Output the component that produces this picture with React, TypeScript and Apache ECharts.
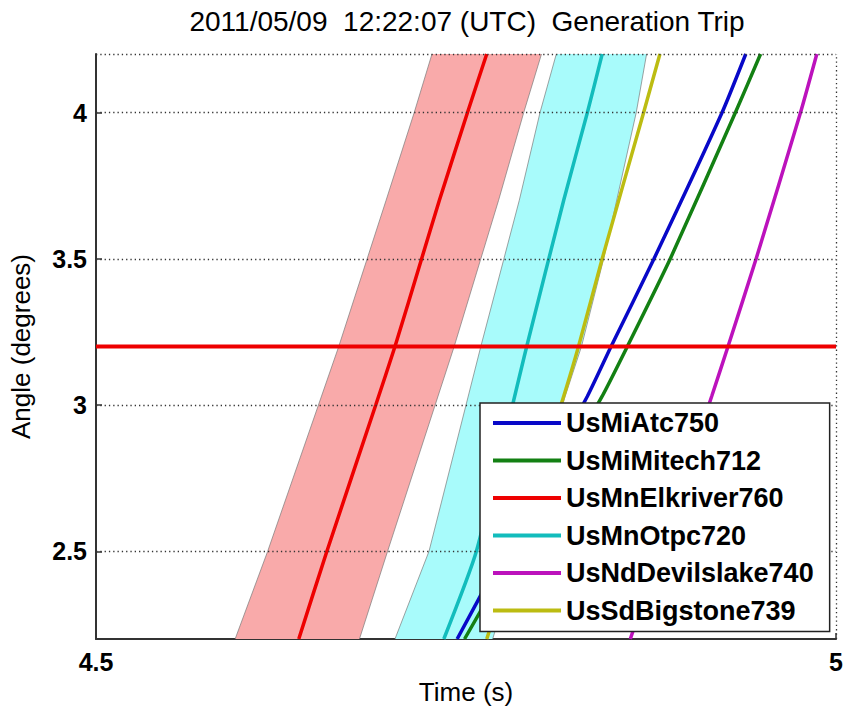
import React, { useEffect, useRef } from "react";
import * as echarts from "echarts";

const TITLE = "2011/05/09  12:22:07 (UTC)  Generation Trip";
const X_NAME = "Time (s)";
const Y_NAME = "Angle (degrees)";
const X_TICKS = [4.5, 5];
const Y_TICKS = [2.5, 3, 3.5, 4];
const X_RANGE = [4.5, 5];
const Y_RANGE = [2.2, 4.2];
const THRESHOLD = 3.2;

// [time (s), angle (degrees)]
const ATC750 = [[4.744, 2.2], [4.776, 2.5], [4.832, 3.03], [4.848, 3.2], [4.877, 3.5], [4.923, 4.0], [4.939, 4.2]];
const MITECH712 = [[4.749, 2.2], [4.783, 2.5], [4.842, 3.03], [4.859, 3.2], [4.888, 3.5], [4.932, 4.0], [4.949, 4.2]];
const ELKRIVER760 = [[4.637, 2.2], [4.656, 2.5], [4.689, 3.0], [4.702, 3.2], [4.720, 3.5], [4.732, 3.7], [4.751, 4.0], [4.764, 4.2]];
const OTPC720 = [[4.735, 2.2], [4.757, 2.5], [4.791, 3.2], [4.816, 3.7], [4.832, 4.0], [4.842, 4.2]];
const DEVILSLAKE740 = [[4.861, 2.2], [4.881, 2.5], [4.916, 3.03], [4.927, 3.2], [4.946, 3.5], [4.976, 4.0], [4.987, 4.2]];
const BIGSTONE739 = [[4.764, 2.2], [4.783, 2.5], [4.816, 3.03], [4.826, 3.2], [4.842, 3.5], [4.870, 4.0], [4.881, 4.2]];

const ELK_BAND_LOW = [[4.594, 2.2], [4.616, 2.5], [4.664, 3.2], [4.696, 3.7], [4.715, 4.0], [4.727, 4.2]];
const ELK_BAND_HIGH = [[4.678, 2.2], [4.697, 2.5], [4.742, 3.2], [4.772, 3.7], [4.789, 4.0], [4.801, 4.2]];
const OTPC_BAND_LOW = [[4.702, 2.2], [4.725, 2.5], [4.760, 3.2], [4.786, 3.7], [4.800, 4.0], [4.811, 4.2]];
const OTPC_BAND_HIGH = [[4.768, 2.2], [4.786, 2.5], [4.817, 3.03], [4.828, 3.2], [4.843, 3.5], [4.865, 4.0], [4.872, 4.2]];

const SERIES_NAMES = ["UsMiAtc750", "UsMiMitech712", "UsMnElkriver760", "UsMnOtpc720", "UsNdDevilslake740", "UsSdBigstone739"];
const SERIES_DATA = [ATC750, MITECH712, ELKRIVER760, OTPC720, DEVILSLAKE740, BIGSTONE739];
const SERIES_COLORS = ["#0808c8", "#138013", "#ee0000", "#12bcbc", "#bc12bc", "#bcbc12"];

const FONT = '"Liberation Sans", Arial, Helvetica, sans-serif';

function bandSeries(low: number[][], high: number[][], fill: string) {
  return {
    type: "custom",
    z: 1,
    silent: true,
    clip: true,
    data: low.concat(high),
    renderItem: (params: any, api: any) => {
      if (params.dataIndex !== 0) return null;
      const l = low.map((p) => api.coord(p));
      const h = high.map((p) => api.coord(p));
      return {
        type: "group",
        children: [
          { type: "polygon", shape: { points: l.concat(h.slice().reverse()) }, style: { fill, stroke: null } },
          { type: "polyline", shape: { points: l }, style: { stroke: "#7a7a7a", lineWidth: 0.7, fill: null } },
          { type: "polyline", shape: { points: h }, style: { stroke: "#7a7a7a", lineWidth: 0.7, fill: null } },
        ],
      };
    },
  };
}

export default function App() {
  const ref = useRef<HTMLDivElement>(null);
  useEffect(() => {
    if (!ref.current) return;
    const chart = echarts.init(ref.current, null, { renderer: "svg" });
    const dotted = { color: "#333", width: 1.3, type: [1.3, 3] };
    const option: any = {
      animation: false,
      backgroundColor: "#fff",
      textStyle: { fontFamily: FONT },
      grid: { left: 96, right: 8, top: 54, bottom: 72, containLabel: false },
      graphic: [
        {
          type: "text",
          x: 467,
          y: 21,
          style: {
            text: TITLE,
            font: `normal 28px ${FONT}`,
            fill: "#000",
            textAlign: "center",
            textVerticalAlign: "middle",
          },
        },
      ],
      xAxis: {
        type: "value",
        min: X_RANGE[0],
        max: X_RANGE[1],
        interval: 0.5,
        name: X_NAME,
        nameLocation: "middle",
        nameGap: 40,
        nameTextStyle: { fontSize: 26, color: "#000", fontFamily: FONT },
        axisLine: { show: true, lineStyle: { color: "#333", width: 2 } },
        axisTick: { show: true, inside: true, length: 6, lineStyle: { color: "#333", width: 1.5 }, customValues: X_TICKS },
        axisLabel: { fontSize: 25, fontWeight: "bold", color: "#000", margin: 10, fontFamily: FONT, customValues: X_TICKS, formatter: (v: number) => String(v) },
        splitLine: { show: false },
      },
      yAxis: {
        type: "value",
        min: Y_RANGE[0],
        max: Y_RANGE[1],
        name: Y_NAME,
        nameLocation: "middle",
        nameRotate: 90,
        nameGap: 62,
        nameTextStyle: { fontSize: 26, color: "#000", fontFamily: FONT },
        axisLine: { show: true, lineStyle: { color: "#333", width: 2 } },
        axisTick: { show: true, inside: true, length: 6, lineStyle: { color: "#333", width: 1.5 }, customValues: Y_TICKS },
        axisLabel: { fontSize: 25, fontWeight: "bold", color: "#000", margin: 9, fontFamily: FONT, customValues: Y_TICKS, formatter: (v: number) => String(v) },
        splitLine: { show: false },
      },
      legend: {
        data: SERIES_NAMES,
        orient: "vertical",
        left: 480,
        top: 403,
        z: 10,
        backgroundColor: "#fff",
        borderColor: "#222",
        borderWidth: 1.5,
        borderRadius: 0,
        padding: [5, 16, 6, 13],
        itemGap: 7.5,
        itemWidth: 68,
        itemHeight: 4,
        itemStyle: { borderWidth: 0 },
        icon: "rect",
        textStyle: { fontSize: 27, fontWeight: "bold", color: "#000", fontFamily: FONT, lineHeight: 30, padding: [0, 0, 0, 0] },
        selectedMode: false,
      },
      series: [
        bandSeries(ELK_BAND_LOW, ELK_BAND_HIGH, "#f9aaaa"),
        bandSeries(OTPC_BAND_LOW, OTPC_BAND_HIGH, "#a8fbfb"),
        {
          type: "line",
          name: "grid",
          z: 2,
          silent: true,
          data: [[X_RANGE[0], Y_RANGE[0]]],
          symbol: "none",
          lineStyle: { opacity: 0 },
          markLine: {
            silent: true,
            symbol: "none",
            label: { show: false },
            lineStyle: dotted,
            data: [
              ...Y_TICKS.map((v) => ({ yAxis: v })),
              { yAxis: Y_RANGE[1] },
              { xAxis: X_RANGE[1] },
            ],
          },
        },
        ...SERIES_NAMES.map((name, i) => ({
          type: "line",
          name,
          z: 3,
          data: SERIES_DATA[i],
          showSymbol: false,
          symbol: "none",
          smooth: 0.2,
          color: SERIES_COLORS[i],
          lineStyle: { color: SERIES_COLORS[i], width: 3.5 },
        })),
        {
          type: "line",
          name: "threshold",
          z: 4,
          silent: true,
          data: [[X_RANGE[0], THRESHOLD], [X_RANGE[1], THRESHOLD]],
          symbol: "none",
          color: "#ee0000",
          lineStyle: { color: "#ee0000", width: 4 },
        },
      ],
    };
    chart.setOption(option);
    return () => chart.dispose();
  }, []);
  return <div ref={ref} style={{ position: "absolute", left: 0, top: 0, width: 846, height: 711 }} />;
}
